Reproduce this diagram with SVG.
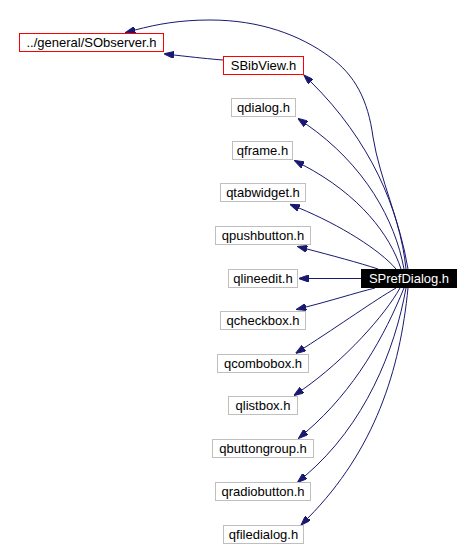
<svg xmlns="http://www.w3.org/2000/svg" width="470" height="550" viewBox="0 0 470 550">
<style>
.n rect{fill:#ffffff;stroke:#bfbfbf;stroke-width:1}
.n.r rect{stroke:#ff0000}
.n.s rect{fill:#000000;stroke:#000000}
.n text{font-family:"Liberation Sans",Arial,sans-serif;font-size:13px;text-anchor:middle;fill:#000000}
.n.s text{fill:#ffffff}
.e path{fill:none;stroke:#191970;stroke-width:1;marker-end:url(#ah)}
</style>
<defs>
<marker id="ah" markerUnits="userSpaceOnUse" viewBox="0 0 10 7" refX="0" refY="3.5" markerWidth="10" markerHeight="7" orient="auto">
<path d="M0,0 L10,3.5 L0,7 z" fill="#191970" stroke="#191970" stroke-width="1"/>
</marker>
</defs>
<rect width="470" height="550" fill="#ffffff"/>
<g id="edges" class="e">
<path d="M408,269 C400,220 380,180 373,137 C368,100 355,75 330,57 C300,35 260,20 210,20 C180,20 158,24 135,30"/>
<path d="M223,60 C210,59 196,57.5 174,55"/>
<path d="M406,269 C400,210 370,140 311,82"/>
<path d="M404,269 C395,220 365,165 306,124"/>
<path d="M401,269 C390,235 360,195 303,165"/>
<path d="M396,269 C380,250 340,225 299,208"/>
<path d="M378,269 C360,263 330,255 307,249"/>
<path d="M361,278.5 L308.5,278.5"/>
<path d="M375,288 C355,293 330,301 306,307"/>
<path d="M396,288 C375,300 340,325 304,348"/>
<path d="M400,288 C385,315 345,360 302,390"/>
<path d="M404,288 C385,335 355,390 306,432"/>
<path d="M406,288 C395,350 365,425 305,476"/>
<path d="M408,288 C400,370 375,450 308,518"/>
</g>
<g id="SObserver" class="n r"><rect x="19.5" y="33.5" width="144" height="18"/><text x="91.5" y="47">../general/SObserver.h</text></g>
<g id="SBibView" class="n r"><rect x="223.5" y="56.5" width="80" height="18"/><text x="263.5" y="70">SBibView.h</text></g>
<g id="qdialog" class="n"><rect x="231.5" y="98.5" width="64" height="18"/><text x="263.5" y="112">qdialog.h</text></g>
<g id="qframe" class="n"><rect x="232.5" y="141.5" width="60" height="18"/><text x="262.5" y="155">qframe.h</text></g>
<g id="qtabwidget" class="n"><rect x="220.5" y="183.5" width="85" height="18"/><text x="263" y="197">qtabwidget.h</text></g>
<g id="qpushbutton" class="n"><rect x="215.5" y="226.5" width="95" height="18"/><text x="263" y="240">qpushbutton.h</text></g>
<g id="qlineedit" class="n"><rect x="228.5" y="269.5" width="69" height="18"/><text x="263" y="283">qlineedit.h</text></g>
<g id="SPrefDialog" class="n s"><rect x="361.5" y="269.5" width="95" height="18"/><text x="409" y="283">SPrefDialog.h</text></g>
<g id="qcheckbox" class="n"><rect x="220.5" y="311.5" width="85" height="18"/><text x="263" y="325">qcheckbox.h</text></g>
<g id="qcombobox" class="n"><rect x="217.5" y="354.5" width="91" height="18"/><text x="263" y="368">qcombobox.h</text></g>
<g id="qlistbox" class="n"><rect x="228.5" y="396.5" width="69" height="18"/><text x="263" y="410">qlistbox.h</text></g>
<g id="qbuttongroup" class="n"><rect x="212.5" y="439.5" width="101" height="18"/><text x="263" y="453">qbuttongroup.h</text></g>
<g id="qradiobutton" class="n"><rect x="215.5" y="482.5" width="95" height="18"/><text x="263" y="496">qradiobutton.h</text></g>
<g id="qfiledialog" class="n"><rect x="223.5" y="525.5" width="80" height="18"/><text x="263.5" y="539">qfiledialog.h</text></g>
</svg>
